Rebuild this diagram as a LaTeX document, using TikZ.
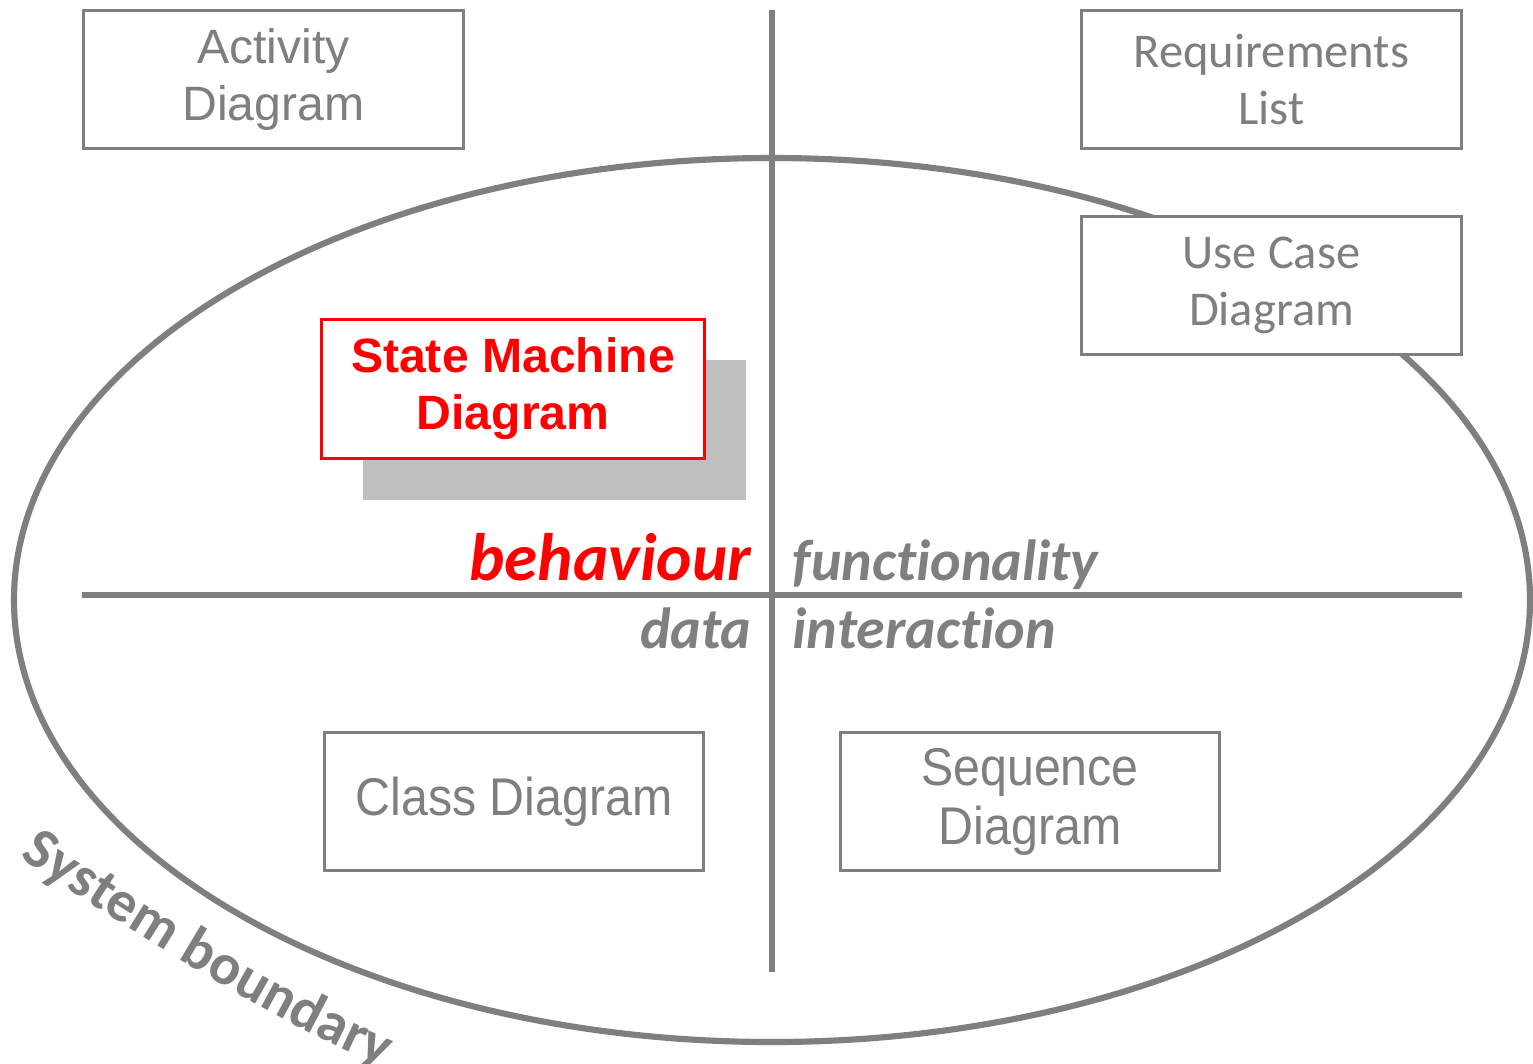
\documentclass[tikz,border=0pt]{standalone}
\usepackage{fontspec}
\usetikzlibrary{decorations.text}
\newfontfamily\arialf{Liberation Sans}
\newfontfamily\arialnarrow[FakeStretch=0.91]{Liberation Sans}
\newfontfamily\calibrif[Ligatures=CommonOff]{Carlito}
\definecolor{linegray}{RGB}{127,127,127}
\definecolor{shadowgray}{RGB}{191,191,191}
\definecolor{hired}{RGB}{255,0,0}
\tikzset{
  diagbox/.style={draw=linegray, line width=0.85pt, fill=white, minimum width=3.79cm,
    minimum height=1.37cm, inner sep=0pt, align=center, text=linegray},
  axis/.style={draw=linegray, line width=1.45pt},
  aspect/.style={text=linegray, inner sep=0pt, font=\calibrif\bfseries\itshape\fontsize{16.5}{19}\selectfont}
}
\begin{document}
\begin{tikzpicture}[x=0.01cm, y=-0.01cm]
  \useasboundingbox (0,0) rectangle (1533,1063);

  % system boundary
  \draw[linegray, line width=1.75pt] (772,600) ellipse [x radius=758, y radius=442];

  % axes
  \coordinate (vtop) at (772,10);
  \coordinate (vbot) at (772,972);
  \coordinate (hleft) at (82,595);
  \coordinate (hright) at (1462,595);
  \draw[axis] (vtop) -- (vbot);
  \draw[axis] (hleft) -- (hright);

  % diagram boxes
  \node[diagbox, font=\arialf\fontsize{13.7}{16.2}\selectfont] (act) at (273.5,79.5) {Activity\\Diagram};
  \node[diagbox, font=\calibrif\fontsize{13.8}{16}\selectfont] (req) at (1271.5,79.5) {Requirements\\List};
  \node[diagbox, font=\calibrif\fontsize{13.8}{16}\selectfont] (uc) at (1271.5,285.5) {Use Case\\Diagram};
  \node[diagbox, font=\arialnarrow\fontsize{15.1}{16.8}\selectfont] (cls) at (514,801.5) {Class Diagram};
  \node[diagbox, font=\arialnarrow\fontsize{15.1}{16.8}\selectfont] (seq) at (1030,801.5) {Sequence\\Diagram};

  % highlighted state machine box with shadow
  \fill[shadowgray] (363,360) rectangle (746,500);
  \node[diagbox, draw=hired, text=hired, minimum width=3.82cm, minimum height=1.38cm,
        font=\arialf\bfseries\fontsize{13.7}{16.2}\selectfont] (sm) at (513,389) {State Machine\\Diagram};

  % quadrant labels
  \node[aspect, text=hired, anchor=base east, font=\calibrif\bfseries\itshape\fontsize{19.1}{21}\selectfont] (beh) at (752,580) {behaviour};
  \node[aspect, anchor=base west] (fun) at (792,580) {functionality};
  \node[aspect, anchor=base east] (dat) at (752,648) {data};
  \node[aspect, anchor=base west] (int) at (792,648) {interaction};

  % curved caption
  \path[decorate, decoration={text along path, text align=left,
        text={|\calibrif\bfseries\fontsize{16.5}{19}\selectfont\color{linegray}|System boundary}}]
        (20,857) .. controls (178.7,963.7) and (303.7,1035.3) .. (395,1072);
\end{tikzpicture}
\end{document}
